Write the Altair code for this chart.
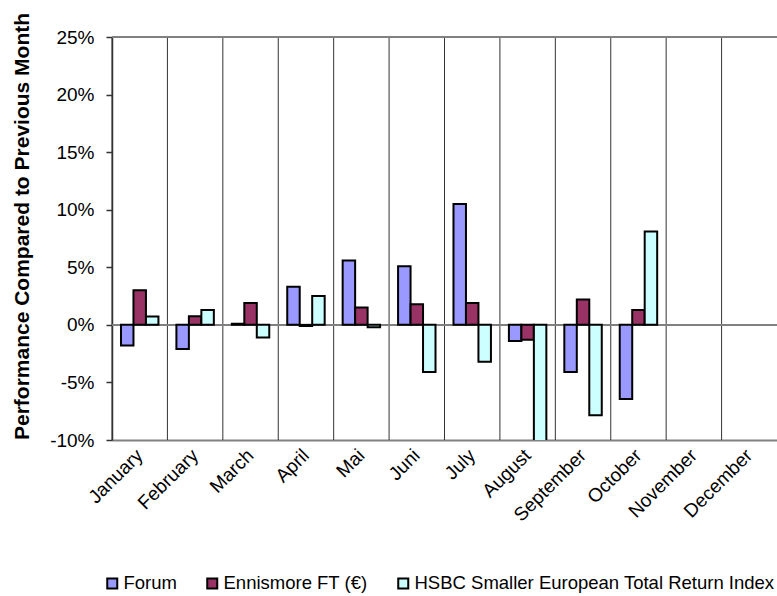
import altair as alt
import pandas as pd

months = ["January", "February", "March", "April", "Mai", "Juni", "July",
          "August", "September", "October", "November", "December"]
series = ["Forum", "Ennismore FT (€)", "HSBC Smaller European Total Return Index"]
colors = ["#9999FF", "#993366", "#CCFFFF"]

forum = [-1.8, -2.1, 0.1, 3.3, 5.6, 5.1, 10.5, -1.4, -4.1, -6.45]
ennismore = [3.0, 0.75, 1.9, -0.1, 1.5, 1.8, 1.9, -1.3, 2.2, 1.3]
hsbc = [0.72, 1.3, -1.1, 2.5, -0.2, -4.1, -3.2, -10.5, -7.85, 8.1]

y_ticks = [-10, -5, 0, 5, 10, 15, 20, 25]

rows = []
for name, vals in zip(series, [forum, ennismore, hsbc]):
    for m, v in zip(months, vals):
        rows.append({"month": m, "series": name, "value": v})
df = pd.DataFrame(rows)
grid_df = pd.DataFrame({"month": months})

FONT = "Liberation Sans"

x_scale = alt.Scale(domain=months, paddingInner=0, paddingOuter=0)
x_axis = alt.Axis(
    title=None, labelAngle=-45, labelAlign="right", labelBaseline="middle",
    labelFontSize=19, labelPadding=12, labelColor="black", ticks=False,
    domainColor="#808080", domainWidth=2, grid=False, labelFont=FONT,
)
y_scale = alt.Scale(domain=[-10, 25], nice=False, zero=False)
y_axis = alt.Axis(
    values=y_ticks, labelExpr="datum.value + '%'", grid=False,
    tickSize=6, tickColor="#333333", tickWidth=1.5,
    domainColor="#333333", domainWidth=1.5,
    labelFontSize=19, labelPadding=12, labelColor="black", labelFont=FONT,
    title="Performance Compared to Previous Month",
    titleFontSize=21, titleFontWeight="bold", titleFont=FONT, titleColor="black",
    titleAngle=-90, titleBaseline="alphabetic", titleAlign="center",
    titleX=-84, titleY=189,
)

grid = alt.Chart(grid_df).mark_rule(color="#333333", strokeWidth=1).encode(
    x=alt.X("month:N", sort=months, scale=x_scale, axis=x_axis, bandPosition=0)
)

zero_line = alt.Chart(grid_df).mark_rule(color="#808080", strokeWidth=1.5).encode(
    y=alt.datum(0, scale=y_scale, axis=y_axis)
)
top_line = alt.Chart(grid_df).mark_rule(color="#808080", strokeWidth=2).encode(
    y=alt.datum(25)
)

bars = alt.Chart(df).mark_bar(stroke="black", strokeWidth=2, clip=True).encode(
    x=alt.X("month:N", sort=months, scale=x_scale, axis=x_axis),
    xOffset=alt.XOffset("series:N", sort=series,
                        scale=alt.Scale(domain=series, paddingInner=0, paddingOuter=0.72)),
    y=alt.Y("value:Q", scale=y_scale, axis=y_axis),
    color=alt.Color(
        "series:N", sort=series,
        scale=alt.Scale(domain=series, range=colors),
        legend=alt.Legend(
            title=None, orient="none", legendX=-9, legendY=537,
            direction="horizontal", symbolType="square", symbolSize=100,
            symbolStrokeColor="black", symbolStrokeWidth=2,
            labelFontSize=18.5, labelFont=FONT, labelColor="black",
            labelOffset=2, columnPadding=26, labelLimit=500,
        ),
    ),
)

chart = alt.layer(grid, zero_line, top_line, bars).properties(
    width=665, height=403,
    padding={"left": 112, "top": 37, "right": 0, "bottom": 156},
    autosize=alt.AutoSizeParams(type="none"),
).configure_view(stroke=None).configure(font=FONT)

chart.save("out.html", embed_options={"renderer": "svg", "actions": False})
